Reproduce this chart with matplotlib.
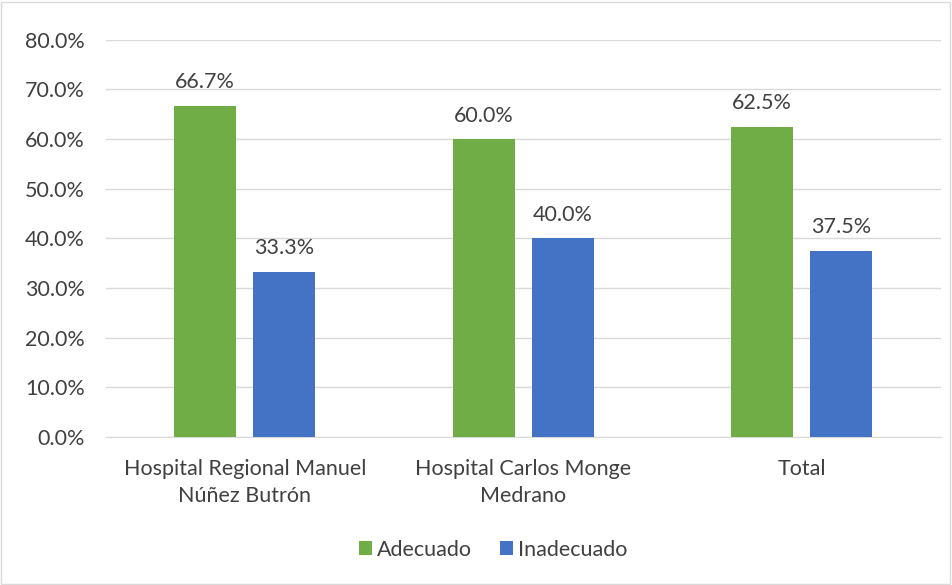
import matplotlib
matplotlib.use("Agg")
import matplotlib.pyplot as plt
import numpy as np
from matplotlib.patches import Rectangle

categories = ["Hospital Regional Manuel\nNúñez Butrón", "Hospital Carlos Monge\nMedrano", "Total"]
adecuado = [66.7, 60.0, 62.5]
inadecuado = [33.3, 40.0, 37.5]
yticks = [0, 10, 20, 30, 40, 50, 60, 70, 80]

GREEN = "#70AD47"
BLUE = "#4472C4"
TXT = "#404040"
FS = 15.5

plt.rcParams["font.family"] = ["Lato", "DejaVu Sans"]

fig = plt.figure(figsize=(9.52, 5.85), dpi=100)
ax = fig.add_axes([0.111, 0.253, 0.877, 0.679])

x = np.arange(len(categories))
w = 0.223
off = 0.142
b1 = ax.bar(x - off, adecuado, w, color=GREEN, label="Adecuado", zorder=3)
b2 = ax.bar(x + off, inadecuado, w, color=BLUE, label="Inadecuado", zorder=3)
for bars, vals in ((b1, adecuado), (b2, inadecuado)):
    for r, v in zip(bars, vals):
        ax.text(r.get_x() + r.get_width() / 2, v + 2.7, f"{v:.1f}%", ha="center", va="bottom",
                fontsize=FS, color=TXT)

ax.set_xlim(-0.5, 2.5)
ax.set_ylim(0, 80)
ax.set_yticks(yticks)
ax.set_yticklabels([f"{t:.1f}%" for t in yticks])
ax.set_xticks(x)
ax.set_xticklabels(categories, linespacing=1.4)
ax.grid(axis="y", color="#D9D9D9", lw=1, zorder=0)
for s in ["top", "right", "left"]:
    ax.spines[s].set_visible(False)
ax.spines["bottom"].set_color("#D9D9D9")
ax.tick_params(length=0, labelsize=FS, colors=TXT)
ax.tick_params(axis="y", pad=15)
ax.tick_params(axis="x", pad=16)

fig.legend(loc="center", bbox_to_anchor=(0.518, 0.06), ncol=2, frameon=False, fontsize=FS,
           handlelength=0.6, handleheight=0.6, handletextpad=0.25, columnspacing=1.3,
           labelcolor=TXT)

fig.patches.append(Rectangle((0.001, 0.002), 0.997, 0.995, transform=fig.transFigure,
                             fill=False, ec="#D9D9D9", lw=1))

fig.savefig("out.png", dpi=100, facecolor="white")
